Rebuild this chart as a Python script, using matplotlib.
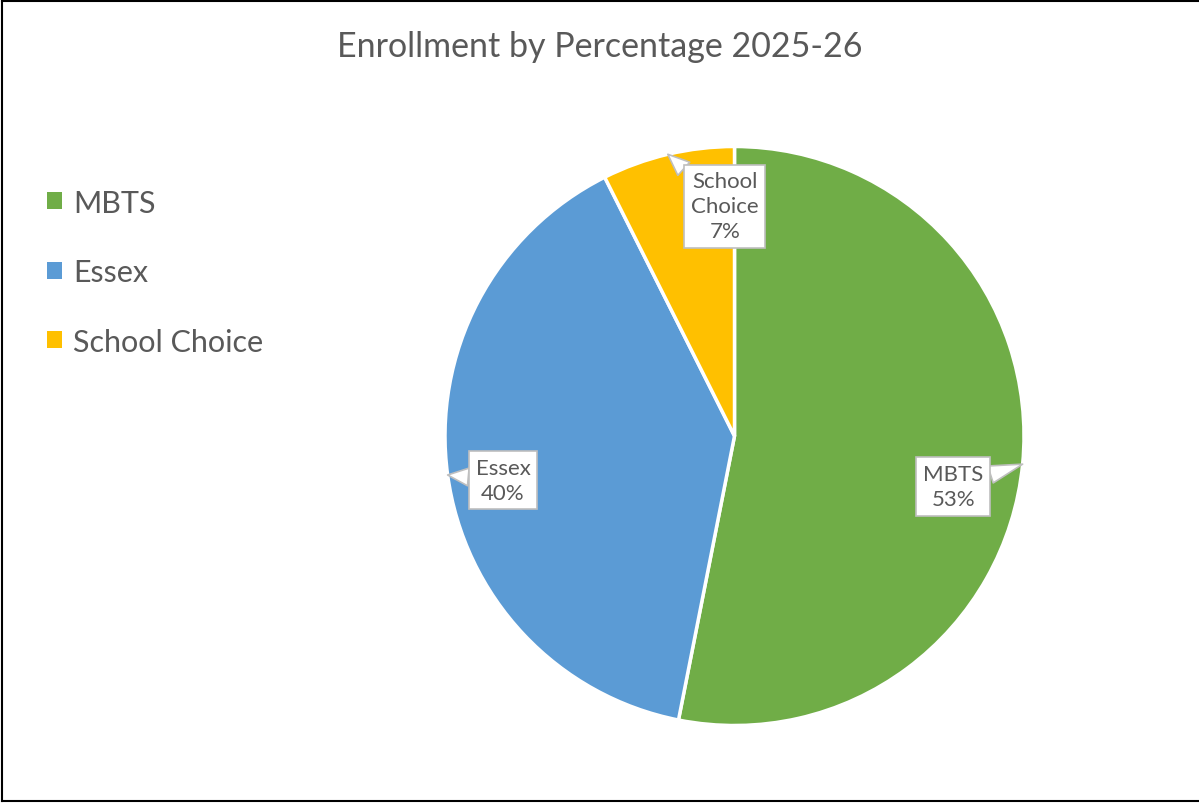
import matplotlib.pyplot as plt
import numpy as np
from matplotlib.lines import Line2D

# slice shares (percent)
categories = ['MBTS', 'Essex', 'School Choice']
shares = [53.1, 39.5, 7.4]
pct_labels = ['53%', '40%', '7%']
colors = ['#70AD47', '#5B9BD5', '#FFC000']

# where each callout box sits (radius, angle in degrees)
label_pos = [(0.775, -13.0), (0.814, 190.8), (0.795, 92.4)]
label_text = ['MBTS\n53%', 'Essex\n40%', 'School\nChoice\n7%']

TEXT = '#595959'
plt.rcParams['font.family'] = ['Lato', 'DejaVu Sans']

fig = plt.figure(figsize=(11.99, 8.04), dpi=100)

# pie axes: center (734.5, 437) px, radius 289.5 px
W, H = 1199, 804
cx, cy, r = 734.5, 437, 289.5
ax = fig.add_axes([(cx - r) / W, (H - cy - r) / H, 2 * r / W, 2 * r / H])

wedges, _ = ax.pie(shares, colors=colors, startangle=90, counterclock=False,
                   radius=1.0, wedgeprops=dict(edgecolor='white', linewidth=2.5))
ax.set_xlim(-1, 1)
ax.set_ylim(-1, 1)
ax.set_aspect('equal')
ax.axis('off')

for w, txt, (lr, la) in zip(wedges, label_text, label_pos):
    mid = np.deg2rad((w.theta1 + w.theta2) / 2)
    tip = (np.cos(mid), np.sin(mid))
    pos = (lr * np.cos(np.deg2rad(la)), lr * np.sin(np.deg2rad(la)))
    ax.annotate(txt, xy=tip, xytext=pos, ha='center', va='center',
                fontsize=16, color=TEXT, linespacing=1.3,
                bbox=dict(boxstyle='square,pad=0.3', fc='white', ec='#BFBFBF', lw=1.2),
                arrowprops=dict(arrowstyle='wedge,tail_width=0.8,shrink_factor=0.5',
                                fc='white', ec='#BFBFBF', lw=1.2,
                                shrinkA=0, shrinkB=0),
                zorder=5)

fig.text(0.5, 1 - 47 / H, 'Enrollment by Percentage 2025-26', ha='center', va='center',
         fontsize=24.5, color=TEXT)

handles = [plt.Rectangle((0, 0), 1, 1, fc=c, ec='none') for c in colors]
leg = fig.legend(handles, categories, loc='upper left',
                 bbox_to_anchor=(19 / W, 1 - 162 / H), frameon=False,
                 fontsize=22, labelcolor=TEXT, labelspacing=1.36,
                 handlelength=0.5, handleheight=0.5, handletextpad=0.38)

# chart border (left, top, bottom)
fig.add_artist(Line2D([2 / W, 2 / W], [2 / H, 1 - 2 / H], color='black', lw=1.5,
                      transform=fig.transFigure))
fig.add_artist(Line2D([2 / W, 1], [1 - 2 / H, 1 - 2 / H], color='black', lw=1.5,
                      transform=fig.transFigure))
fig.add_artist(Line2D([2 / W, 1], [2 / H, 2 / H], color='black', lw=1.5,
                      transform=fig.transFigure))

fig.savefig('out.png', dpi=100)
